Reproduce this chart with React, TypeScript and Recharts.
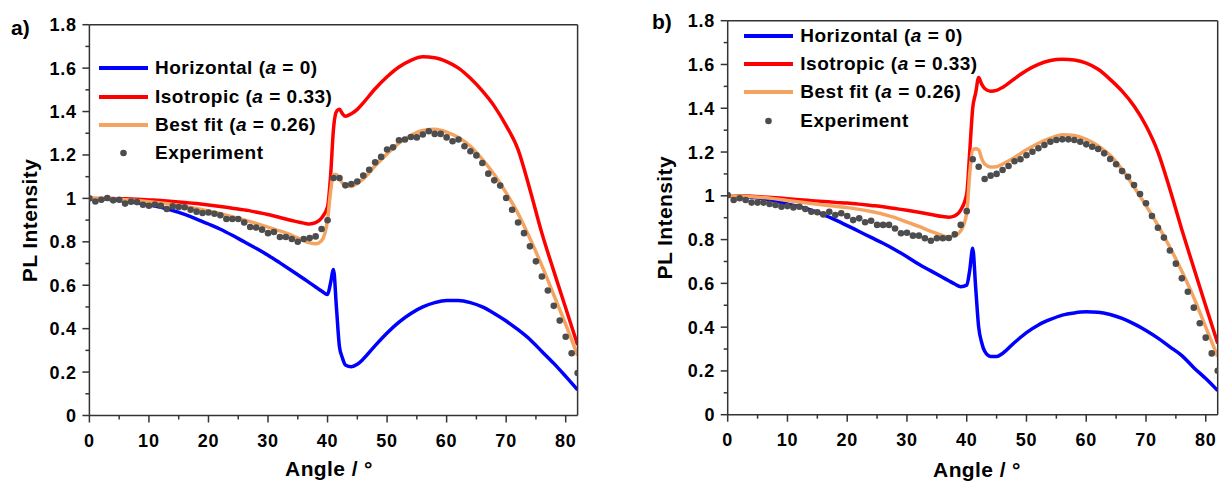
import React from "react";
import { ComposedChart, Legend, Line, Scatter, XAxis, YAxis } from "recharts";

const FONT = '"Liberation Sans", Arial, Helvetica, sans-serif';
const AXIS_COLOR = "#333333";
const BLUE = "#0000ff";
const RED = "#ff0000";
const ORANGE = "#f4a460";
const DOT = "#4d4d4d";

// angles used for the simulated curves
const lineAngles = [
  0, 2, 4, 6, 8, 10, 12, 14, 16, 18, 20, 22, 24, 26, 28, 30, 32, 34, 36, 37,
  38, 39, 40, 40.5, 41, 41.5, 42, 42.5, 43, 44, 45, 46, 48, 50, 52, 54, 56, 58,
  60, 62, 64, 66, 68, 70, 72, 74, 76, 78, 80, 82,
];

// angles of the measured points
const expAngles = [
  0, 1, 2, 3, 4, 5, 6, 7, 8, 9, 10, 11, 12, 13, 14, 15, 16, 17, 18, 19, 20,
  21, 22, 23, 24, 25, 26, 27, 28, 29, 30, 31, 32, 33, 34, 35, 36, 37, 38, 39,
  40, 41, 42, 43, 44, 45, 46, 47, 48, 49, 50, 51, 52, 53, 54, 55, 56, 57, 58,
  59, 60, 61, 62, 63, 64, 65, 66, 67, 68, 69, 70, 71, 72, 73, 74, 75, 76, 77,
  78, 79, 80, 81, 82,
];

// panel a)
const horizontalA = [
  1.0, 0.998, 0.994, 0.988, 0.98, 0.971, 0.959, 0.944, 0.926, 0.905, 0.882,
  0.858, 0.83, 0.8, 0.77, 0.738, 0.703, 0.667, 0.63, 0.611, 0.592, 0.573,
  0.557, 0.61, 0.673, 0.495, 0.317, 0.265, 0.233, 0.225, 0.236, 0.26, 0.322,
  0.38, 0.43, 0.47, 0.5, 0.52, 0.53, 0.53, 0.52, 0.5, 0.47, 0.435, 0.395,
  0.35, 0.295, 0.24, 0.18, 0.118,
];
const isotropicA = [
  1.0, 1.0, 0.999, 0.998, 0.996, 0.993, 0.99, 0.986, 0.981, 0.976, 0.97,
  0.963, 0.955, 0.947, 0.937, 0.926, 0.912, 0.898, 0.886, 0.882, 0.888, 0.91,
  0.962, 1.1, 1.32, 1.4, 1.41, 1.39, 1.378, 1.39, 1.41, 1.44, 1.505, 1.56,
  1.605, 1.636, 1.652, 1.648, 1.63, 1.6, 1.553, 1.495, 1.425, 1.335, 1.225,
  1.04, 0.84, 0.665, 0.495, 0.325,
];
const bestFitA = [
  1.0, 0.999, 0.997, 0.994, 0.99, 0.985, 0.979, 0.972, 0.963, 0.953, 0.942,
  0.93, 0.916, 0.901, 0.885, 0.868, 0.85, 0.83, 0.806, 0.795, 0.791, 0.805,
  0.9, 1.03, 1.11, 1.11, 1.09, 1.07, 1.058, 1.055, 1.07, 1.09, 1.15, 1.205,
  1.255, 1.29, 1.313, 1.318, 1.305, 1.28, 1.24, 1.18, 1.11, 1.025, 0.93,
  0.815, 0.69, 0.555, 0.42, 0.276,
];
const experimentA = [
  1.0, 0.986, 0.994, 1.002, 0.991, 0.994, 0.976, 0.985, 0.983, 0.971, 0.966,
  0.972, 0.966, 0.951, 0.963, 0.96, 0.959, 0.948, 0.939, 0.933, 0.935, 0.929,
  0.922, 0.905, 0.905, 0.905, 0.889, 0.868, 0.866, 0.856, 0.84, 0.845, 0.822,
  0.822, 0.813, 0.8, 0.813, 0.817, 0.825, 0.859, 0.899, 1.094, 1.094, 1.06,
  1.066, 1.078, 1.105, 1.132, 1.166, 1.191, 1.225, 1.235, 1.268, 1.271,
  1.283, 1.281, 1.294, 1.309, 1.297, 1.297, 1.281, 1.263, 1.271, 1.24, 1.217,
  1.198, 1.163, 1.114, 1.083, 1.059, 1.002, 0.948, 0.889, 0.84, 0.779, 0.71,
  0.64, 0.576, 0.505, 0.437, 0.363, 0.287, 0.196,
];

// panel b)
const horizontalB = [
  1.0, 0.998, 0.993, 0.986, 0.976, 0.963, 0.95, 0.934, 0.914, 0.89, 0.864,
  0.837, 0.81, 0.783, 0.754, 0.722, 0.687, 0.657, 0.627, 0.612, 0.597, 0.585,
  0.592, 0.66, 0.76, 0.58, 0.4, 0.33, 0.29, 0.266, 0.266, 0.28, 0.33, 0.375,
  0.41, 0.435, 0.455, 0.465, 0.47, 0.468, 0.458, 0.44, 0.415, 0.385, 0.35,
  0.31, 0.27, 0.215, 0.165, 0.11,
];
const isotropicB = [
  1.0, 1.0, 0.998, 0.995, 0.991, 0.987, 0.982, 0.978, 0.974, 0.97, 0.967,
  0.962, 0.956, 0.95, 0.942, 0.934, 0.925, 0.915, 0.905, 0.902, 0.908, 0.935,
  1.01, 1.2, 1.4, 1.47, 1.54, 1.51, 1.49, 1.478, 1.482, 1.495, 1.535, 1.572,
  1.6, 1.618, 1.624, 1.62, 1.606, 1.578, 1.532, 1.478, 1.41, 1.32, 1.2,
  1.03, 0.845, 0.67, 0.497, 0.326,
];
const bestFitB = [
  1.0, 0.999, 0.996, 0.992, 0.986, 0.979, 0.972, 0.965, 0.958, 0.952, 0.946,
  0.938, 0.928, 0.916, 0.9, 0.88, 0.86, 0.838, 0.818, 0.812, 0.818, 0.84,
  0.92, 1.1, 1.21, 1.215, 1.21, 1.17, 1.145, 1.132, 1.133, 1.145, 1.175,
  1.21, 1.24, 1.263, 1.279, 1.276, 1.258, 1.228, 1.185, 1.12, 1.04, 0.955,
  0.865, 0.765, 0.655, 0.535, 0.4, 0.265,
];
const experimentB = [
  1.003, 0.981, 0.989, 0.981, 0.969, 0.969, 0.969, 0.963, 0.958, 0.95, 0.953,
  0.947, 0.95, 0.94, 0.927, 0.925, 0.915, 0.927, 0.912, 0.92, 0.908, 0.889,
  0.897, 0.879, 0.886, 0.867, 0.867, 0.867, 0.851, 0.829, 0.831, 0.818,
  0.818, 0.806, 0.795, 0.806, 0.806, 0.807, 0.824, 0.867, 0.93, 1.167,
  1.133, 1.077, 1.092, 1.1, 1.118, 1.136, 1.158, 1.167, 1.185, 1.201, 1.217,
  1.232, 1.247, 1.255, 1.258, 1.258, 1.255, 1.247, 1.235, 1.224, 1.214,
  1.194, 1.168, 1.144, 1.113, 1.087, 1.049, 1.008, 0.966, 0.908, 0.854,
  0.809, 0.75, 0.69, 0.623, 0.562, 0.489, 0.418, 0.352, 0.28, 0.201,
];

const xTicks = [0, 5, 10, 15, 20, 25, 30, 35, 40, 45, 50, 55, 60, 65, 70, 75, 80];
const yTicks = [
  0, 0.1, 0.2, 0.3, 0.4, 0.5, 0.6, 0.7, 0.8, 0.9, 1, 1.1, 1.2, 1.3, 1.4, 1.5,
  1.6, 1.7, 1.8,
];

const legendItems = [
  { kind: "line", color: BLUE, name: "Horizontal (", value: "0)" },
  { kind: "line", color: RED, name: "Isotropic (", value: "0.33)" },
  { kind: "line", color: ORANGE, name: "Best fit (", value: "0.26)" },
  { kind: "dot", color: DOT, name: "Experiment", value: "" },
];

const toPoints = (xs: number[], ys: number[]) =>
  xs.map((x, i) => ({ x, y: ys[i] }));

function XTick(props: any) {
  const { x, y, payload } = props;
  const v = payload.value;
  const major = v % 10 === 0;
  return (
    <g>
      <line x1={x} x2={x} y1={y} y2={y + (major ? 7 : 4)} stroke={AXIS_COLOR} strokeWidth={1.5} />
      {major && (
        <text
          x={x}
          y={y + 31}
          textAnchor="middle"
          fontFamily={FONT}
          fontWeight="bold"
          fontSize={18}
          letterSpacing={0.8}
          fill="#000"
        >
          {v}
        </text>
      )}
    </g>
  );
}

function YTick(props: any) {
  const { x, y, payload } = props;
  const v = payload.value;
  const major = Math.round(v * 10) % 2 === 0;
  return (
    <g>
      <line x1={x} x2={x - (major ? 7 : 4)} y1={y} y2={y} stroke={AXIS_COLOR} strokeWidth={1.5} />
      {major && (
        <text
          x={x - 12.5}
          y={y}
          dy="0.36em"
          textAnchor="end"
          fontFamily={FONT}
          fontWeight="bold"
          fontSize={18}
          letterSpacing={0.8}
          fill="#000"
        >
          {String(Number(v.toFixed(1)))}
        </text>
      )}
    </g>
  );
}

function LegendBox() {
  return (
    <div style={{ fontFamily: FONT, fontWeight: "bold", fontSize: 19, letterSpacing: 0.5, color: "#000" }}>
      {legendItems.map((item) => (
        <div key={item.name} style={{ display: "flex", alignItems: "center", height: 28.3 }}>
          <svg width={49} height={28} style={{ marginRight: 7, flex: "none" }}>
            {item.kind === "line" ? (
              <line x1={0} x2={49} y1={14} y2={14} stroke={item.color} strokeWidth={4} />
            ) : (
              <circle cx={24.5} cy={14} r={3.3} fill={item.color} />
            )}
          </svg>
          <span style={{ whiteSpace: "nowrap" }}>
            {item.name}
            {item.value && (
              <>
                <i>a</i> = {item.value}
              </>
            )}
          </span>
        </div>
      ))}
    </div>
  );
}

const dotShape = (p: any) => <circle cx={p.cx} cy={p.cy} r={3.3} fill={DOT} />;

type PanelProps = {
  left: number;
  horizontal: number[];
  isotropic: number[];
  bestFit: number[];
  experiment: number[];
  marginTop: number;
  marginRight: number;
  yAxisWidth: number;
  xAxisHeight: number;
  legendLeft: number;
  legendTop: number;
};

function Panel(p: PanelProps) {
  return (
    <div style={{ position: "absolute", left: p.left, top: 0 }}>
      <ComposedChart
        width={600}
        height={483}
        margin={{ top: p.marginTop, right: p.marginRight, bottom: 0, left: 0 }}
      >
        <XAxis
          dataKey="x"
          type="number"
          domain={[0, 82]}
          allowDataOverflow
          ticks={xTicks}
          interval={0}
          tick={<XTick />}
          tickLine={false}
          tickSize={0}
          tickMargin={0}
          height={p.xAxisHeight}
          axisLine={{ stroke: AXIS_COLOR, strokeWidth: 1.5 }}
        />
        <XAxis
          xAxisId="top"
          orientation="top"
          type="number"
          domain={[0, 82]}
          tick={false}
          tickLine={false}
          height={1}
          axisLine={{ stroke: AXIS_COLOR, strokeWidth: 1.5 }}
        />
        <YAxis
          type="number"
          domain={[0, 1.8]}
          allowDataOverflow
          ticks={yTicks}
          interval={0}
          tick={<YTick />}
          tickLine={false}
          tickSize={0}
          tickMargin={0}
          width={p.yAxisWidth}
          axisLine={{ stroke: AXIS_COLOR, strokeWidth: 1.5 }}
        />
        <YAxis
          yAxisId="right"
          orientation="right"
          type="number"
          domain={[0, 1.8]}
          tick={false}
          tickLine={false}
          width={1}
          axisLine={{ stroke: AXIS_COLOR, strokeWidth: 1.5 }}
        />
        <Legend
          layout="vertical"
          align="center"
          verticalAlign="middle"
          content={() => <LegendBox />}
          wrapperStyle={{ left: p.legendLeft, top: p.legendTop, width: "auto", height: "auto" }}
        />
        <Line
          data={toPoints(lineAngles, p.horizontal)}
          dataKey="y"
          type="monotone"
          stroke={BLUE}
          strokeWidth={3.5}
          dot={false}
          activeDot={false}
          isAnimationActive={false}
        />
        <Line
          data={toPoints(lineAngles, p.isotropic)}
          dataKey="y"
          type="monotone"
          stroke={RED}
          strokeWidth={3.5}
          dot={false}
          activeDot={false}
          isAnimationActive={false}
        />
        <Line
          data={toPoints(lineAngles, p.bestFit)}
          dataKey="y"
          type="monotone"
          stroke={ORANGE}
          strokeWidth={3.5}
          dot={false}
          activeDot={false}
          isAnimationActive={false}
        />
        <Scatter
          data={toPoints(expAngles, p.experiment)}
          dataKey="y"
          shape={dotShape}
          isAnimationActive={false}
        />
      </ComposedChart>
    </div>
  );
}

const titleStyle = { fontFamily: FONT, fontWeight: "bold", fill: "#000" } as const;

export default function App() {
  return (
    <div style={{ position: "absolute", left: 0, top: 0, width: 1219, height: 483, background: "#fff" }}>
      <Panel
        left={0}
        horizontal={horizontalA}
        isotropic={isotropicA}
        bestFit={bestFitA}
        experiment={experimentA}
        marginTop={23.7}
        marginRight={21.4}
        yAxisWidth={89.4}
        xAxisHeight={67.5}
        legendLeft={99}
        legendTop={54.2}
      />
      <Panel
        left={619}
        horizontal={horizontalB}
        isotropic={isotropicB}
        bestFit={bestFitB}
        experiment={experimentB}
        marginTop={19.7}
        marginRight={0.3}
        yAxisWidth={108.7}
        xAxisHeight={68.3}
        legendLeft={125.3}
        legendTop={21.6}
      />
      <svg width={1219} height={483} style={{ position: "absolute", left: 0, top: 0, pointerEvents: "none" }}>
        <text x={11} y={35} fontSize={21} {...titleStyle}>a)</text>
        <text x={652} y={28.5} fontSize={21} {...titleStyle}>b)</text>
        <text x={329} y={476} fontSize={21} letterSpacing={0.4} textAnchor="middle" {...titleStyle}>
          Angle / °
        </text>
        <text x={977} y={476.5} fontSize={21} letterSpacing={0.4} textAnchor="middle" {...titleStyle}>
          Angle / °
        </text>
        <text
          x={36.7}
          y={220.5}
          fontSize={21}
          letterSpacing={0.4}
          textAnchor="middle"
          transform="rotate(-90 36.7 220.5)"
          {...titleStyle}
        >
          PL Intensity
        </text>
        <text
          x={671.7}
          y={217.7}
          fontSize={21}
          letterSpacing={0.4}
          textAnchor="middle"
          transform="rotate(-90 671.7 217.7)"
          {...titleStyle}
        >
          PL Intensity
        </text>
      </svg>
    </div>
  );
}
